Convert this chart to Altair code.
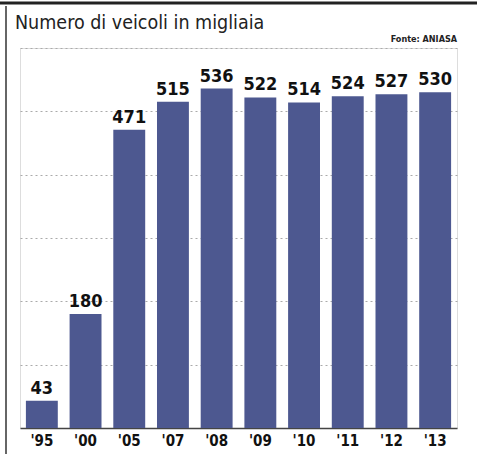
import altair as alt
import pandas as pd

years = ["'95", "'00", "'05", "'07", "'08", "'09", "'10", "'11", "'12", "'13"]
values = [43, 180, 471, 515, 536, 522, 514, 524, 527, 530]
grid_values = [100, 200, 300, 400, 500, 600]

df = pd.DataFrame({"anno": years, "veicoli": values})

FONT = "DejaVu Sans Condensed, Liberation Sans Narrow, Liberation Sans, sans-serif"
BAR = "#4d5890"

base = alt.Chart(df)

bars = base.mark_bar(color=BAR).encode(
    x=alt.X("anno:N", sort=years,
            scale=alt.Scale(paddingInner=0.27, paddingOuter=0.135),
            axis=alt.Axis(title=None, labelAngle=0, ticks=False,
                          domainColor="#444", domainWidth=1.5,
                          labelFont=FONT, labelFontSize=15, labelFontWeight="bold",
                          labelColor="#111", labelPadding=5)),
    y=alt.Y("veicoli:Q", scale=alt.Scale(domain=[0, 600], nice=False),
            axis=alt.Axis(title=None, labels=False, ticks=False, domain=False,
                          values=grid_values, gridColor="#aaaaaa",
                          gridDash=[2, 3], gridWidth=1)),
)

labels = base.mark_text(font=FONT, fontSize=18, fontWeight="bold",
                        color="#111", baseline="alphabetic", dy=-7).encode(
    x=alt.X("anno:N", sort=years),
    y="veicoli:Q",
    text="veicoli:Q",
)

title = alt.Chart(pd.DataFrame({"t": ["Numero di veicoli in migliaia"]})).mark_text(
    font=FONT, fontSize=19.5, color="#222", align="left", baseline="alphabetic"
).encode(x=alt.value(-5), y=alt.value(-19), text="t:N")

source = alt.Chart(pd.DataFrame({"t": ["Fonte: ANIASA"]})).mark_text(
    font=FONT, fontSize=9, fontWeight="bold", color="#222", align="right",
    baseline="alphabetic"
).encode(x=alt.value(437), y=alt.value(-6), text="t:N")

top_line = alt.Chart(pd.DataFrame({"a": [0]})).mark_rule(
    color="#222", strokeWidth=3
).encode(x=alt.value(-20), x2=alt.value(457), y=alt.value(-45))

left_line = alt.Chart(pd.DataFrame({"a": [0]})).mark_rule(
    color="#333", strokeWidth=1.5
).encode(x=alt.value(-14), y=alt.value(-42), y2=alt.value(410))

chart = alt.layer(bars, labels, title, source, top_line, left_line).properties(
    width=437, height=380,
    autosize=alt.AutoSizeParams(type="none"),
    padding={"left": 20, "top": 48, "right": 20, "bottom": 26},
).configure_view(stroke=None).configure(background="white")

chart.save("out.html", embed_options={"renderer": "svg", "actions": False})
